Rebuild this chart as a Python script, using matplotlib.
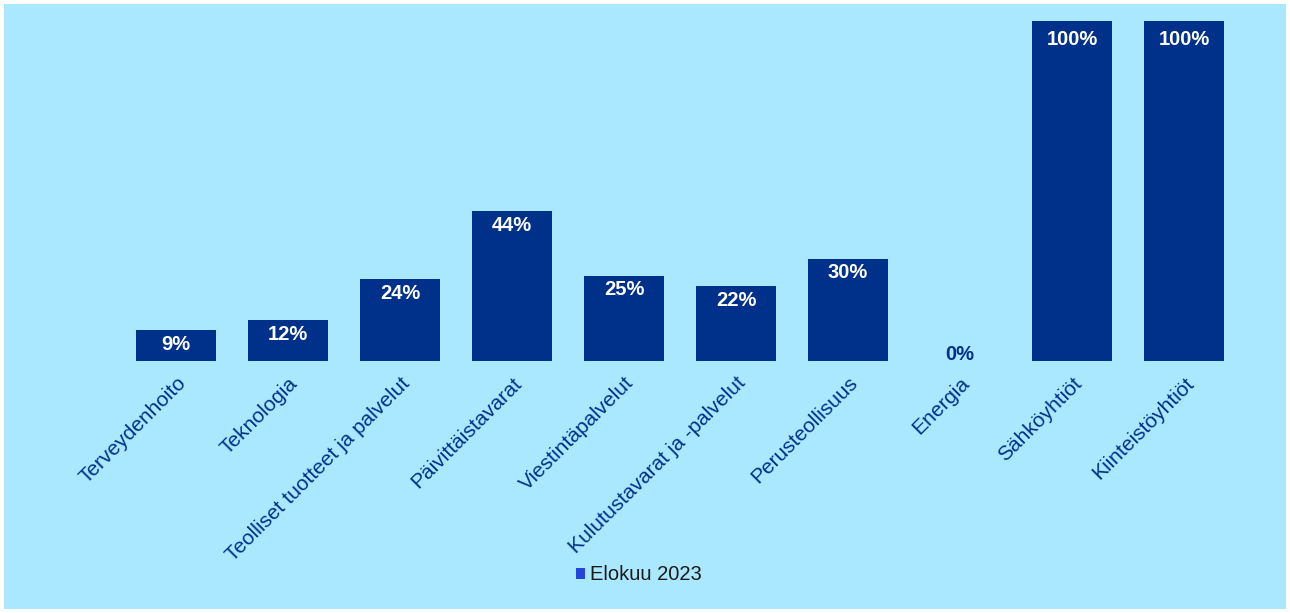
import matplotlib.pyplot as plt
from matplotlib.patches import Rectangle, Patch

plt.rcParams['font.family'] = ['Liberation Sans', 'DejaVu Sans']

categories = ['Terveydenhoito', 'Teknologia', 'Teolliset tuotteet ja palvelut',
              'Päivittäistavarat', 'Viestintäpalvelut', 'Kulutustavarat ja -palvelut',
              'Perusteollisuus', 'Energia', 'Sähköyhtiöt', 'Kiinteistöyhtiöt']
values = [9, 12, 24, 44, 25, 22, 30, 0, 100, 100]
series_name = 'Elokuu 2023'

bg = '#aae8ff'
navy = '#00318a'

fig = plt.figure(figsize=(12.9, 6.13), dpi=100)
fig.patch.set_facecolor('white')
fig.patches.append(Rectangle((4 / 1290, 4 / 613), 1282 / 1290, 605 / 613,
                             transform=fig.transFigure, facecolor=bg,
                             edgecolor='none', zorder=-1))

ax = fig.add_axes([120 / 1290, 1 - 361 / 613, 1120 / 1290, 340 / 613])
ax.set_facecolor('none')
x = range(len(categories))
ax.bar(x, values, width=0.714, color=navy)
ax.set_xlim(-0.5, len(categories) - 0.5)
ax.set_ylim(0, 100)
for s in ax.spines.values():
    s.set_visible(False)
ax.set_yticks([])
ax.set_xticks(list(x))
ax.set_xticklabels(categories, rotation=45, ha='right', va='top',
                   rotation_mode='anchor', fontsize=15, color=navy)
ax.tick_params(axis='x', length=0, pad=9)

for xi, v in zip(x, values):
    if v >= 100:
        # labels of full bars sit a bit lower in the original
        off = (0, -13)
    elif v > 0:
        off = (0, -10)
    else:
        off = (0, 5)
    ax.annotate(f'{v}%', (xi, v), xytext=off, textcoords='offset points',
                ha='center', va='center', color='white' if v > 0 else navy,
                fontsize=14.5, fontweight='bold')

handle = Patch(facecolor='#2446d8', edgecolor='none', label=series_name)
fig.legend(handles=[handle], loc='center', bbox_to_anchor=(639 / 1290, 1 - 575 / 613),
           frameon=False, fontsize=14.5, labelcolor='#1a1a1a', handlelength=0.45,
           handleheight=0.45, handletextpad=0.25)

fig.savefig('out.png', dpi=100)
